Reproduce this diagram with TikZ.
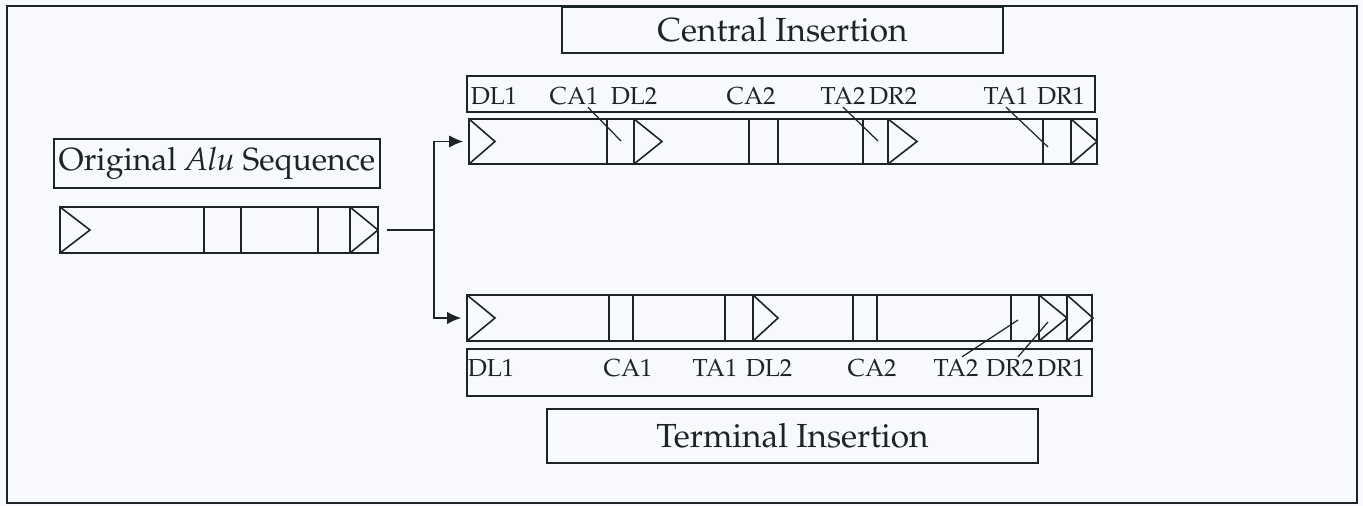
\documentclass[tikz,border=0pt]{standalone}
\usepackage[T1]{fontenc}
\usepackage{mathpazo}
\usepackage{tikz}
\usetikzlibrary{arrows.meta}

\definecolor{paper}{RGB}{247,249,252}
\definecolor{ink}{RGB}{28,36,36}

\tikzset{
  seqbar/.style={draw=ink, inner sep=0pt},
  titlebox/.style={draw=ink, inner sep=0pt, font=\fontsize{19}{22}\selectfont},
  labelbox/.style={draw=ink, inner sep=0pt},
  tag/.style={inner sep=1pt, font=\fontsize{14}{16}\selectfont},
}

\begin{document}
\begin{tikzpicture}[x=0.02cm, y=-0.02cm, line width=0.9pt, ink]
		\useasboundingbox (0,0) rectangle (1363,506);
		\fill [paper] (0,0) rectangle (1363,506);
		\draw [ink] (7,6) rectangle (1357,503);

		% titles
		\node [titlebox, minimum width=8.82cm, minimum height=0.92cm] (central) at (782.5,30) {Central Insertion};
		\node [titlebox, minimum width=9.82cm, minimum height=1.08cm] (terminal) at (792.5,436) {Terminal Insertion};
		\node [titlebox, font=\fontsize{18.2}{21}\selectfont, minimum width=6.52cm, minimum height=0.98cm] (original) at (217,163.5) {Original \textit{Alu} Sequence};

		% original sequence
		\node [seqbar, minimum width=6.36cm, minimum height=0.92cm] (alu) at (219,230) {};
		\foreach \x in {204,241,318,350}
			\draw (\x,207) -- (\x,253);
		\foreach \x/\t in {60/90,350/378}
			\draw (\x,207) -- (\t,230) -- (\x,253);

		% central insertion bar
		\node [labelbox, minimum width=12.56cm, minimum height=0.72cm] (ctags) at (781,94) {};
		\node [seqbar, minimum width=12.56cm, minimum height=0.9cm] (cbar) at (783,141.5) {};
		\foreach \x in {607,634,749,778,863,888,1043,1071}
			\draw (\x,119) -- (\x,164);
		\foreach \x/\t in {469/495,634/662,888/917,1071/1097}
			\draw (\x,119) -- (\t,141.5) -- (\x,164);
		\node [tag] (dl1c) at (494,96) {DL1};
		\node [tag] (ca1c) at (574,96) {CA1};
		\node [tag] (dl2c) at (634,96) {DL2};
		\node [tag] (ca2c) at (751,96) {CA2};
		\node [tag] (ta2c) at (843,96) {TA2};
		\node [tag] (dr2c) at (893,96) {DR2};
		\node [tag] (ta1c) at (1006,96) {TA1};
		\node [tag] (dr1c) at (1061,96) {DR1};
		\coordinate (ca1cend) at (621,141);
		\coordinate (ta2cend) at (878,141);
		\coordinate (ta1cend) at (1048,147);
		\draw [line width=0.7pt] ([xshift=0.28cm]ca1c.south) -- (ca1cend);
		\draw [line width=0.7pt] (ta2c.south) -- (ta2cend);
		\draw [line width=0.7pt] (ta1c.south) -- (ta1cend);

		% terminal insertion bar
		\node [seqbar, minimum width=12.5cm, minimum height=0.92cm] (tbar) at (779.5,318) {};
		\node [labelbox, minimum width=12.5cm, minimum height=0.94cm] (ttags) at (779.5,372.5) {};
		\foreach \x in {609,633,725,753,853,877,1011,1039,1067}
			\draw (\x,295) -- (\x,341);
		\foreach \x/\t in {467/495,753/778,1039/1067,1067/1093}
			\draw (\x,295) -- (\t,318) -- (\x,341);
		\node [tag] (dl1t) at (491,368) {DL1};
		\node [tag] (ca1t) at (628,368) {CA1};
		\node [tag] (ta1t) at (715,368) {TA1};
		\node [tag] (dl2t) at (769,368) {DL2};
		\node [tag] (ca2t) at (872,368) {CA2};
		\node [tag] (ta2t) at (956,368) {TA2};
		\node [tag] (dr2t) at (1010,368) {DR2};
		\node [tag] (dr1t) at (1061,368) {DR1};
		\coordinate (ta2tend) at (1018,320);
		\coordinate (dr2tend) at (1048,322);
		\draw [line width=0.7pt] ([xshift=0.12cm]ta2t.north) -- (ta2tend);
		\draw [line width=0.7pt] ([xshift=0.16cm]dr2t.north) -- (dr2tend);

		% branching arrow
		\coordinate (split) at (434,230);
		\draw ([xshift=0.16cm]alu.east) -- (split);
		\draw [-{Latex[length=8pt,width=7pt]}, shorten >=0.1cm] (split) |- (cbar.west);
		\draw [-{Latex[length=8pt,width=7pt]}, shorten >=0.1cm] (split) |- (tbar.west);
	\end{tikzpicture}
\end{document}
